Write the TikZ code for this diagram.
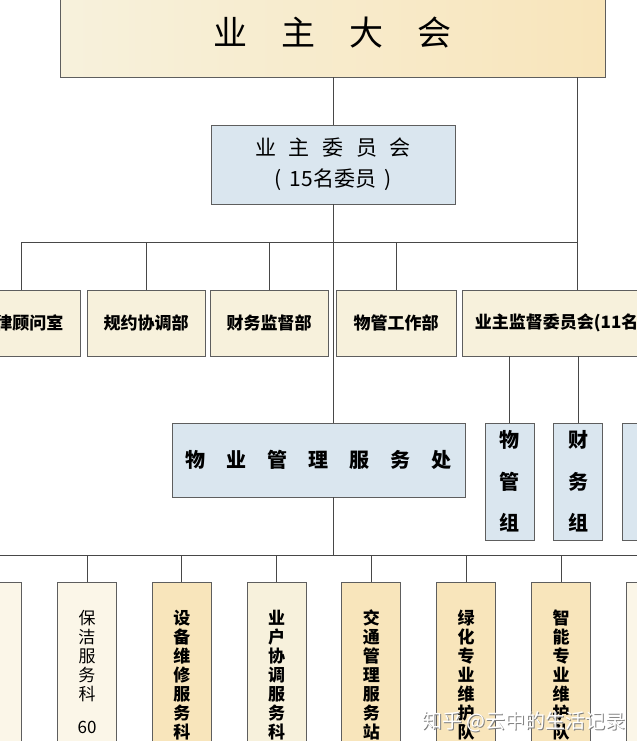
\documentclass[tikz,border=0pt]{standalone}
\usepackage{fontspec}
\newfontfamily\cjk{Noto Sans CJK SC}
\usetikzlibrary{positioning}
\definecolor{kuang}{HTML}{5E5E5E}
\definecolor{xian}{HTML}{474747}
\definecolor{mihuang}{HTML}{F7F1DC}
\definecolor{danhuang}{HTML}{FBF6E8}
\definecolor{chenghuang}{HTML}{F8E5BB}
\definecolor{qianlan}{HTML}{DAE6EF}
\tikzset{
  kuangbox/.style={draw=kuang,line width=0.9pt,inner sep=0pt},
  bumen/.style={kuangbox,fill=mihuang,minimum width=118,minimum height=66,font=\cjk\bfseries\fontsize{17}{17}\selectfont},
  zubox/.style={kuangbox,fill=qianlan,minimum width=49,minimum height=117,align=center,font=\cjk\bfseries\fontsize{20}{41.5}\selectfont},
  kebox/.style={kuangbox,minimum width=59,minimum height=200},
  kezi/.style={align=center,anchor=north,inner sep=0pt},
  lianxian/.style={draw=xian,line width=0.9pt},
}
\begin{document}
\begin{tikzpicture}[x=1pt,y=-1pt]
\useasboundingbox (0,0) rectangle (637,748);
\fill[white] (0,0) rectangle (637,748);
\begin{scope}
\clip (0,0) rectangle (637,740);
% top
\node[kuangbox,minimum width=545,minimum height=88,left color=mihuang,middle color=danhuang,right color=chenghuang,font=\cjk\fontsize{34}{34}\selectfont] (dahui) at (332.5,33) {业\hspace{1em}主\hspace{1em}大\hspace{1em}会};
\node[kuangbox,fill=qianlan,minimum width=244,minimum height=79,align=center,font=\cjk\fontsize{21}{31}\selectfont] (weiyuanhui) at (333,164.5) {业\hspace{0.6em}主\hspace{0.6em}委\hspace{0.6em}员\hspace{0.6em}会\\(\hspace{0.4em}15名委员\hspace{0.4em})};
% row of departments
\node[bumen] (falv) at (21,323) {法律顾问室};
\node[bumen] (guiyue) at (146,323) {规约协调部};
\node[bumen] (caiwu) at (269,323) {财务监督部};
\node[bumen,minimum width=120] (wuguan) at (396,323) {物管工作部};
\node[bumen,minimum width=230] (jiandu) at (577,323) {业主监督委员会(11名委员)};
\node[kuangbox,fill=qianlan,minimum width=293,minimum height=74,font=\cjk\bfseries\fontsize{20}{20}\selectfont] (wuye) at (318.5,460) {物\hspace{1.05em}业\hspace{1.05em}管\hspace{1.05em}理\hspace{1.05em}服\hspace{1.05em}务\hspace{1.05em}处};
\node[zubox] (wuguanzu) at (509.5,481.5) {物\\管\\组};
\node[zubox] (caiwuzu) at (578,481.5) {财\\务\\组};
\node[zubox] (disanzu) at (646.5,481.5) {};
% connectors
\coordinate (bus) at (333,242);
\coordinate (bus2) at (333,555);
\coordinate (zuo2) at (0,555);
\coordinate (you2) at (637,555);
\draw[lianxian] (dahui.south -| weiyuanhui) -- (weiyuanhui.north);
\draw[lianxian] (dahui.south -| jiandu) -- (jiandu.north);
\draw[lianxian] (weiyuanhui.south) -- (weiyuanhui.south |- wuye.north);
\draw[lianxian] (falv.north |- bus) -- (jiandu.north |- bus);
\foreach \n in {falv,guiyue,caiwu,wuguan}
  \draw[lianxian] (\n.north |- bus) -- (\n.north);
\draw[lianxian] (jiandu.south -| wuguanzu) -- (wuguanzu.north);
\draw[lianxian] (jiandu.south -| caiwuzu) -- (caiwuzu.north);
\draw[lianxian] (wuye.south -| bus2) -- (bus2);
\draw[lianxian] (zuo2) -- (you2);
% bottom row
\foreach \i/\se/\zh/\wz in {0/danhuang/\bfseries/{},
    1/danhuang/\mdseries/{保\\洁\\服\\务\\科\\[14pt]60},
    2/chenghuang/\bfseries/{设\\备\\维\\修\\服\\务\\科},
    3/mihuang/\bfseries/{业\\户\\协\\调\\服\\务\\科},
    4/chenghuang/\bfseries/{交\\通\\管\\理\\服\\务\\站},
    5/chenghuang/\bfseries/{绿\\化\\专\\业\\维\\护\\队},
    6/chenghuang/\bfseries/{智\\能\\专\\业\\维\\护\\队},
    7/danhuang/\bfseries/{}}{
  \node[kebox,fill=\se] (k\i) at ({87+94.8*(\i-1)},682) {};
  \node[kezi,font=\cjk\zh\fontsize{17}{19}\selectfont] (kz\i) at (k\i.north |- 0,610) {\wz};
  \draw[lianxian] (k\i.north |- zuo2) -- (k\i.north);
}
\end{scope}
\node[font=\cjk\fontsize{20}{20}\selectfont,text=gray] (shuiyinying) at (524.8,722.8) {知乎 @云中的生活记录};
\node[font=\cjk\fontsize{20}{20}\selectfont,text=white] (shuiyin) at (524,722) {知乎 @云中的生活记录};
\end{tikzpicture}
\end{document}
